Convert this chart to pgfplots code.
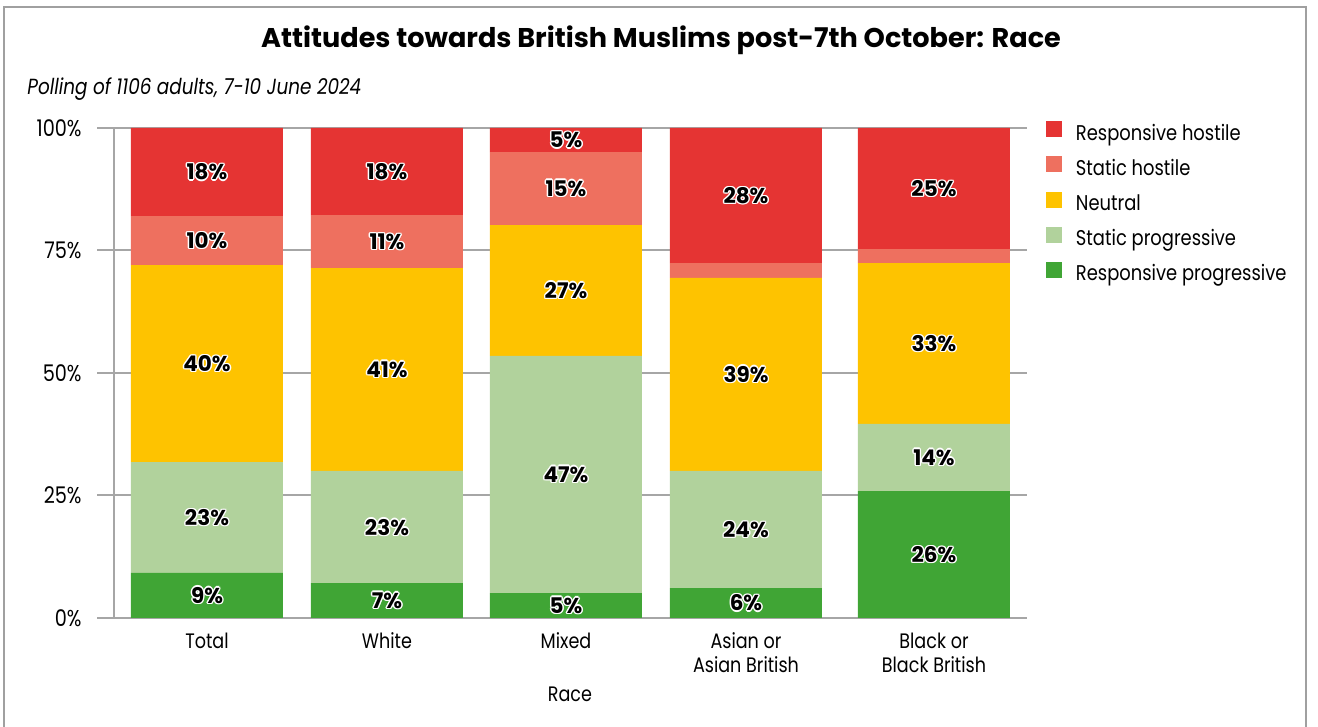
\documentclass[border=0pt]{standalone}
\usepackage{fontspec}
\setmainfont{Poppins}[FakeStretch=0.84]
\newfontfamily\labfont{Poppins}
\usepackage{pgfplots}
\usepackage{pgfplotstable}
\pgfplotsset{compat=1.18}
\definecolor{rh}{HTML}{E53433}
\definecolor{sh}{HTML}{EE705F}
\definecolor{ne}{HTML}{FEC300}
\definecolor{sp}{HTML}{B1D29C}
\definecolor{rp}{HTML}{40A535}
\definecolor{gridc}{HTML}{A6A6A6}
\definecolor{framec}{HTML}{A0A0A0}

\newcommand\outl[1]{\begingroup\setbox0=\hbox{#1}%
\def\cp##1##2{\rlap{\kern##1\raisebox{##2}{\color{white}\copy0}}}%
\cp{0.7bp}{0bp}\cp{-0.7bp}{0bp}\cp{0bp}{0.7bp}\cp{0bp}{-0.7bp}%
\cp{0.5bp}{0.5bp}\cp{-0.5bp}{0.5bp}\cp{0.5bp}{-0.5bp}\cp{-0.5bp}{-0.5bp}%
\box0\endgroup}
\newcommand\tl{\rule{0pt}{8bp}}

\pgfplotstableread{
x rp sp ne sh rh
207 9.2 22.6 40.2 10.0 18.0
387 7.1 22.9 41.4 10.8 17.8
566 5.1 48.4 26.7 14.9 4.9
746 6.1 23.9 39.4 3.0 27.6
934 25.9 13.7 32.8 2.9 24.7
}\data

\pgfplotstableread{
x y lab
207 4.6 9
207 20.5 23
207 51.9 40
207 77.0 10
207 91.0 18
387 3.55 7
387 18.55 23
387 50.7 41
387 76.8 11
387 91.1 18
566 2.55 5
566 29.3 47
566 66.85 27
566 87.65 15
566 97.55 5
746 3.05 6
746 18.05 24
746 49.7 39
746 86.2 28
934 12.95 26
934 32.75 14
934 56.0 33
934 87.65 25
}\labs

\begin{document}
\begin{tikzpicture}
\useasboundingbox (0bp,0bp) rectangle (659bp,363.5bp);
\draw[framec, line width=1.3bp] (2bp,-5bp) -- (2bp,360bp) -- (653bp,360bp) -- (653bp,-5bp);
\node[anchor=base, font=\labfont\bfseries\fontsize{13.6}{16}\selectfont] at (330.5bp,339.5bp) {Attitudes towards British Muslims post-7th October: Race};
\node[anchor=base west, font=\itshape\fontsize{11}{12}\selectfont, inner sep=0pt] at (13.5bp,316bp) {Polling of 1106 adults, 7-10 June 2024};

\pgfplotsset{base/.style={
  at={(48.5bp,54.5bp)}, anchor=south west, scale only axis,
  width=465bp, height=245bp,
  xmin=97, xmax=1027, ymin=0, ymax=100,
}}
\begin{axis}[base,
  ybar stacked, bar width=152, bar shift=0pt,
  axis line style={draw=none},
  major tick length=0pt,
  ymajorgrids, major grid style={gridc, line width=1bp},
  ytick={0,25,50,75,100},
  yticklabels={0\%,25\%,50\%,75\%,100\%},
  yticklabel style={font=\fontsize{11.5}{12}\selectfont, inner sep=0pt, xshift=-7.5bp},
  xtick={207,387,566,746,934},
  xticklabels={\tl Total,\tl White,\tl Mixed,{\tl Asian or\\Asian British},{\tl Black or\\Black British}},
  xticklabel style={font=\fontsize{10.5}{12}\selectfont, align=center, anchor=north, inner sep=0pt, yshift=-7bp},
  xlabel={Race},
  xlabel style={at={(axis description cs:0.5086,-0.1714)}, anchor=base, font=\fontsize{10.5}{12}\selectfont, inner sep=0pt},
  legend style={at={(1.0204,1.014)}, anchor=north west, draw=none, fill=none,
    font=\fontsize{10.7}{12}\selectfont, inner sep=0pt, outer sep=0pt, row sep=5.6bp,
    nodes={inner sep=0pt, text height=7.5bp, text depth=2.5bp},
    /tikz/every odd column/.append style={column sep=7bp}},
  legend cell align=left,
  legend image code/.code={\fill[#1] (0bp,-1bp) rectangle (8bp,7bp);},
  reverse legend,
]
\addplot[fill=rp, draw=none] table[x=x,y=rp]{\data};
\addplot[fill=sp, draw=none] table[x=x,y=sp]{\data};
\addplot[fill=ne, draw=none] table[x=x,y=ne]{\data};
\addplot[fill=sh, draw=none] table[x=x,y=sh]{\data};
\addplot[fill=rh, draw=none] table[x=x,y=rh]{\data};
\legend{Responsive progressive,Static progressive,Neutral,Static hostile,Responsive hostile}
\draw[gridc, line width=0.7bp] (axis cs:114,0) -- (axis cs:114,100);
\end{axis}
\begin{axis}[base, hide axis]
\addplot[draw=none, mark=none, nodes near coords={\outl{\pgfplotspointmeta\%}},
  nodes near coords align=center,
  every node near coord/.append style={anchor=center, text=black, font=\labfont\bfseries\fontsize{10.8}{12}\selectfont},
  point meta=explicit symbolic] table[x=x,y=y,meta=lab]{\labs};
\end{axis}
\end{tikzpicture}
\end{document}
